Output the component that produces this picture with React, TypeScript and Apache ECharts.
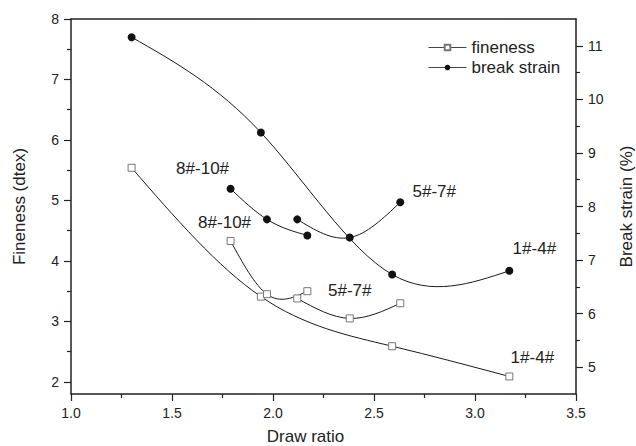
import React, { useEffect, useRef } from "react";
import * as echarts from "echarts";

// Draw ratio, fineness (dtex) and break strain (%) for the three sample groups
const groupNames = ["1#-4#", "5#-7#", "8#-10#"];

const drawRatio1to4 = [1.3, 1.94, 2.59, 3.17];
const fineness1to4 = [5.54, 3.41, 2.59, 2.09];
const strain1to4 = [11.16, 9.38, 6.73, 6.8];

const drawRatio5to7 = [2.12, 2.38, 2.63];
const fineness5to7 = [3.38, 3.05, 3.3];
const strain5to7 = [7.76, 7.42, 8.08];

const drawRatio8to10 = [1.79, 1.97, 2.17];
const fineness8to10 = [4.33, 3.45, 3.5];
const strain8to10 = [8.33, 7.76, 7.46];

// Axis ticks
const xTicks = [1.0, 1.5, 2.0, 2.5, 3.0, 3.5];
const finenessTicks = [2, 3, 4, 5, 6, 7, 8];
const finenessMinorTicks = [2.5, 3.5, 4.5, 5.5, 6.5, 7.5];
const strainTicks = [5, 6, 7, 8, 9, 10, 11];
const strainMinorTicks = [5.5, 6.5, 7.5, 8.5, 9.5, 10.5];

const FONT = "'Liberation Sans', Arial, Helvetica, sans-serif";
const INK = "#222";
const CURVE = "#1a1a1a";

// Where each group's caption sits (point index, pixel offset from that point)
const captionPlacement = {
  fineness: [
    { index: 3, offset: [23, -19] },
    { index: 1, offset: [0, -28] },
    { index: 0, offset: [-6, -18] },
  ],
  strain: [
    { index: 3, offset: [25, -22] },
    { index: 2, offset: [34, -11] },
    { index: 0, offset: [-28, -20] },
  ],
};

// Natural cubic spline through (xs, ys); returns one cubic Bezier per interval,
// in data coordinates: [p0, c1, c2, p1].
function splineSegments(xs: number[], ys: number[]) {
  const n = xs.length - 1;
  const h: number[] = [];
  const d: number[] = [];
  for (let i = 0; i < n; i++) {
    h.push(xs[i + 1] - xs[i]);
    d.push((ys[i + 1] - ys[i]) / h[i]);
  }
  const M = new Array(n + 1).fill(0);
  if (n >= 2) {
    // Thomas algorithm for the interior second derivatives
    const a: number[] = [], b: number[] = [], c: number[] = [], r: number[] = [];
    for (let i = 1; i < n; i++) {
      a.push(h[i - 1]);
      b.push(2 * (h[i - 1] + h[i]));
      c.push(h[i]);
      r.push(6 * (d[i] - d[i - 1]));
    }
    const m = b.length;
    for (let i = 1; i < m; i++) {
      const w = a[i] / b[i - 1];
      b[i] -= w * c[i - 1];
      r[i] -= w * r[i - 1];
    }
    const sol = new Array(m).fill(0);
    sol[m - 1] = r[m - 1] / b[m - 1];
    for (let i = m - 2; i >= 0; i--) sol[i] = (r[i] - c[i] * sol[i + 1]) / b[i];
    for (let i = 0; i < m; i++) M[i + 1] = sol[i];
  }
  const segs: number[][][] = [];
  for (let i = 0; i < n; i++) {
    const s0 = d[i] - (h[i] * (2 * M[i] + M[i + 1])) / 6;
    const s1 = d[i] + (h[i] * (M[i] + 2 * M[i + 1])) / 6;
    segs.push([
      [xs[i], ys[i]],
      [xs[i] + h[i] / 3, ys[i] + (h[i] * s0) / 3],
      [xs[i + 1] - h[i] / 3, ys[i + 1] - (h[i] * s1) / 3],
      [xs[i + 1], ys[i + 1]],
    ]);
  }
  return segs;
}

function buildData(xs: number[], ys: number[], caption: string, place: { index: number; offset: number[] }) {
  return xs.map((x, i) => {
    const item: any = { value: [x, ys[i]] };
    if (i === place.index) {
      item.label = {
        show: true,
        formatter: caption,
        position: "inside",
        offset: place.offset,
        fontSize: 17,
        fontFamily: FONT,
        color: INK,
      };
    }
    return item;
  });
}

function curveSeries(xs: number[], ys: number[], yAxisIndex: number) {
  const segs = splineSegments(xs, ys);
  return {
    type: "custom",
    coordinateSystem: "cartesian2d",
    xAxisIndex: 0,
    yAxisIndex,
    silent: true,
    z: 2,
    encode: { x: 0, y: 1 },
    data: xs.map((x, i) => [x, ys[i]]),
    renderItem: (params: any, api: any) => {
      if (params.dataIndex !== 0) return null;
      return {
        type: "group",
        children: segs.map((s) => {
          const p0 = api.coord(s[0]);
          const c1 = api.coord(s[1]);
          const c2 = api.coord(s[2]);
          const p1 = api.coord(s[3]);
          return {
            type: "bezierCurve",
            shape: {
              x1: p0[0], y1: p0[1],
              cpx1: c1[0], cpy1: c1[1],
              cpx2: c2[0], cpy2: c2[1],
              x2: p1[0], y2: p1[1],
            },
            style: { stroke: CURVE, lineWidth: 1, fill: "none" },
          };
        }),
      };
    },
  };
}

export default function App() {
  const ref = useRef<HTMLDivElement>(null);

  useEffect(() => {
    if (!ref.current) return;
    const chart = echarts.init(ref.current, undefined, { renderer: "svg" });

    const groups = [
      { x: drawRatio1to4, f: fineness1to4, s: strain1to4 },
      { x: drawRatio5to7, f: fineness5to7, s: strain5to7 },
      { x: drawRatio8to10, f: fineness8to10, s: strain8to10 },
    ];

    const markers: any[] = [];
    const curves: any[] = [];
    groups.forEach((g, gi) => {
      markers.push({
        name: "fineness",
        type: "line",
        yAxisIndex: 0,
        symbol: "rect",
        symbolSize: 7,
        showAllSymbol: true,
        lineStyle: { color: CURVE, width: 1, opacity: 0 },
        itemStyle: { color: "#ffffff", borderColor: "#777", borderWidth: 1 },
        emphasis: { disabled: true },
        data: buildData(g.x, g.f, groupNames[gi], captionPlacement.fineness[gi]),
        z: 3,
      });
      markers.push({
        name: "break strain",
        type: "line",
        yAxisIndex: 1,
        symbol: "circle",
        symbolSize: 8,
        showAllSymbol: true,
        lineStyle: { color: CURVE, width: 1, opacity: 0 },
        itemStyle: { color: "#111111" },
        emphasis: { disabled: true },
        data: buildData(g.x, g.s, groupNames[gi], captionPlacement.strain[gi]),
        z: 3,
      });
      curves.push(curveSeries(g.x, g.f, 0));
      curves.push(curveSeries(g.x, g.s, 1));
    });

    const axisLine = { show: true, onZero: false, lineStyle: { color: INK, width: 1.5 } };
    const tickStyle = { color: INK, width: 1.2 };
    const nameStyle = { fontSize: 17, lineHeight: 17, fontFamily: FONT, color: INK };

    chart.setOption({
      animation: false,
      backgroundColor: "#ffffff",
      textStyle: { fontFamily: FONT, color: INK },
      grid: { left: 71, right: 60, top: 19, bottom: 52, containLabel: false, outerBoundsMode: "none" },
      legend: {
        data: ["fineness", "break strain"],
        orient: "vertical",
        left: 423,
        top: 34,
        itemWidth: 38,
        itemHeight: 7,
        itemGap: 3,
        selectedMode: false,
        lineStyle: { color: "#444", width: 1, opacity: 1 },
        textStyle: { fontSize: 17, fontFamily: FONT, color: INK },
      },
      xAxis: [
        {
          type: "value",
          min: 1.0,
          max: 3.5,
          interval: 0.5,
          position: "bottom",
          name: "Draw ratio",
          nameLocation: "middle",
          nameGap: 34,
          nameTextStyle: { ...nameStyle, padding: [0, 36, 0, 0] },
          axisLine,
          axisTick: { show: true, inside: false, length: 7, lineStyle: tickStyle },
          minorTick: { show: true, splitNumber: 2, length: 4, lineStyle: tickStyle },
          axisLabel: {
            margin: 12,
            fontSize: 14,
            fontFamily: FONT,
            color: INK,
            formatter: (v: number) => (xTicks.includes(v) ? v.toFixed(1) : ""),
          },
          splitLine: { show: false },
        },
        {
          type: "value",
          min: 1.0,
          max: 3.5,
          position: "top",
          axisLine,
          axisTick: { show: false },
          axisLabel: { show: false },
          splitLine: { show: false },
        },
      ],
      yAxis: [
        {
          type: "value",
          min: 1.8,
          max: 8,
          position: "left",
          name: "Fineness (dtex)",
          nameLocation: "middle",
          nameRotate: 90,
          nameGap: 43,
          nameTextStyle: nameStyle,
          axisLine,
          axisTick: { show: true, length: 7, customValues: finenessTicks, lineStyle: tickStyle },
          axisLabel: { margin: 12, fontSize: 14, fontFamily: FONT, color: INK, customValues: finenessTicks },
          splitLine: { show: false },
        },
        {
          type: "value",
          min: 4.5,
          max: 11.5,
          position: "right",
          name: "Break strain (%)",
          nameLocation: "middle",
          nameRotate: 90,
          nameGap: 42,
          nameTextStyle: nameStyle,
          axisLine,
          axisTick: { show: true, length: 7, customValues: strainTicks, lineStyle: tickStyle },
          axisLabel: { margin: 12, fontSize: 14, fontFamily: FONT, color: INK, customValues: strainTicks },
          splitLine: { show: false },
        },
        {
          // minor ticks of the fineness axis
          type: "value",
          min: 1.8,
          max: 8,
          position: "left",
          axisLine: { show: false, onZero: false },
          axisTick: { show: true, length: 4, customValues: finenessMinorTicks, lineStyle: tickStyle },
          axisLabel: { show: false },
          splitLine: { show: false },
        },
        {
          // minor ticks of the break strain axis
          type: "value",
          min: 4.5,
          max: 11.5,
          position: "right",
          axisLine: { show: false, onZero: false },
          axisTick: { show: true, length: 4, customValues: strainMinorTicks, lineStyle: tickStyle },
          axisLabel: { show: false },
          splitLine: { show: false },
        },
      ],
      series: [...markers, ...curves],
    });

    return () => chart.dispose();
  }, []);

  return (
    <div
      ref={ref}
      style={{ position: "absolute", left: 0, top: 0, width: 636, height: 446, background: "#fff" }}
    />
  );
}
